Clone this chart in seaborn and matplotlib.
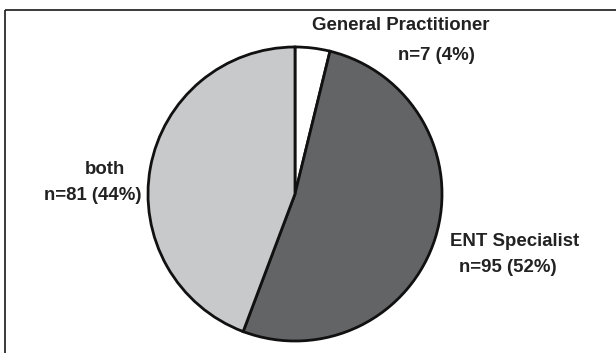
import matplotlib
matplotlib.use("Agg")
import matplotlib.pyplot as plt
import seaborn as sns

# Referral source counts
categories = ["General Practitioner", "ENT Specialist", "both"]
counts = [7, 95, 81]
slice_colors = ["#ffffff", "#636466", "#c8c9cb"]

sns.set_theme(style="white")
plt.rcParams["font.family"] = ["Liberation Sans", "DejaVu Sans"]

W, H = 616, 353
fig = plt.figure(figsize=(W / 100, H / 100), dpi=100)
ax = fig.add_axes([0, 0, 1, 1])

# Open frame (left and top edges)
ax.plot([4.5, 4.5], [0, H - 9.5], color="#2b2b2b", lw=1.3, solid_capstyle="butt")
ax.plot([4.5, W], [H - 9.5, H - 9.5], color="#2b2b2b", lw=1.3, solid_capstyle="butt")

ax.pie(counts, colors=slice_colors, startangle=90, counterclock=False,
       center=(295, H - 194), radius=147, frame=True,
       wedgeprops=dict(edgecolor="#111111", linewidth=2.0))
ax.set_xlim(0, W)
ax.set_ylim(0, H)
ax.set_aspect("equal")
ax.axis("off")

total = sum(counts)
label_pos = {
    "General Practitioner": [(401, 26), (436, 55)],
    "ENT Specialist": [(515, 242), (508, 268)],
    "both": [(105, 169), (93, 195)],
}
for name, n in zip(categories, counts):
    (x1, y1), (x2, y2) = label_pos[name]
    pct = round(100 * n / total)
    ax.text(x1, H - y1, name, ha="center", va="center", fontsize=13.4,
            fontweight="bold", color="#222222")
    ax.text(x2, H - y2, f"n={n} ({pct}%)", ha="center", va="center",
            fontsize=13.4, fontweight="bold", color="#222222")

fig.savefig("out.png", dpi=100, facecolor="white")
